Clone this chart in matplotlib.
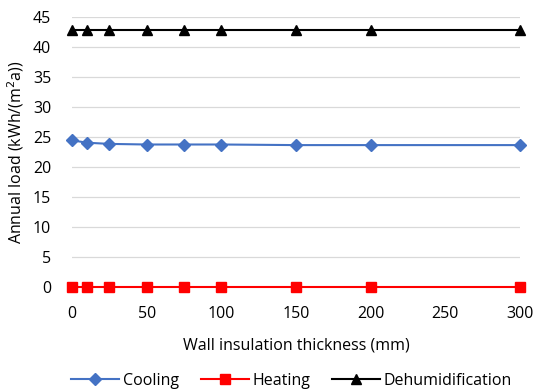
import matplotlib
matplotlib.use("Agg")
import matplotlib.pyplot as plt

thickness = [0, 10, 25, 50, 75, 100, 150, 200, 300]
cooling = [24.4, 24.0, 23.8, 23.7, 23.7, 23.7, 23.6, 23.6, 23.6]
heating = [0, 0, 0, 0, 0, 0, 0, 0, 0]
dehumidification = [42.7, 42.7, 42.7, 42.7, 42.7, 42.7, 42.7, 42.7, 42.7]
x_ticks = [0, 50, 100, 150, 200, 250, 300]
y_ticks = [0, 5, 10, 15, 20, 25, 30, 35, 40, 45]

plt.rcParams['font.family'] = ['Open Sans', 'DejaVu Sans']

fig = plt.figure(figsize=(5.37, 3.9), dpi=100)
ax = fig.add_axes([72/537, 1-286.7/390, (520-72)/537, (286.7-16.7)/390])

ax.plot(thickness, cooling, color='#4472C4', marker='D', markersize=6, lw=1.5, label='Cooling', clip_on=False, zorder=3)
ax.plot(thickness, heating, color='#FF0000', marker='s', markersize=7, lw=1.5, label='Heating', clip_on=False, zorder=3)
ax.plot(thickness, dehumidification, color='#000000', marker='^', markersize=7, lw=1.5, label='Dehumidification', clip_on=False, zorder=3)

ax.set_xlim(0, 300)
ax.set_ylim(0, 45)
ax.set_xticks(x_ticks)
ax.set_yticks(y_ticks)
ax.grid(axis='y', color='#D9D9D9', lw=0.9)
ax.set_axisbelow(True)
for s in ax.spines.values():
    s.set_visible(False)
ax.tick_params(length=0, labelsize=11.5, colors='#000000')
ax.tick_params(axis='x', pad=14)
ax.tick_params(axis='y', pad=15)
ax.set_xlabel('Wall insulation thickness (mm)', fontsize=11.5, labelpad=11)
ax.set_ylabel('Annual load (kWh/(m$^2$a))', fontsize=11.5, labelpad=5)

ax.legend(loc='upper center', bbox_to_anchor=(0.49, -0.265), ncol=3, frameon=False,
          fontsize=11.5, handlelength=3.0, handletextpad=0.2, columnspacing=1.4)

fig.savefig('out.png', dpi=100)
